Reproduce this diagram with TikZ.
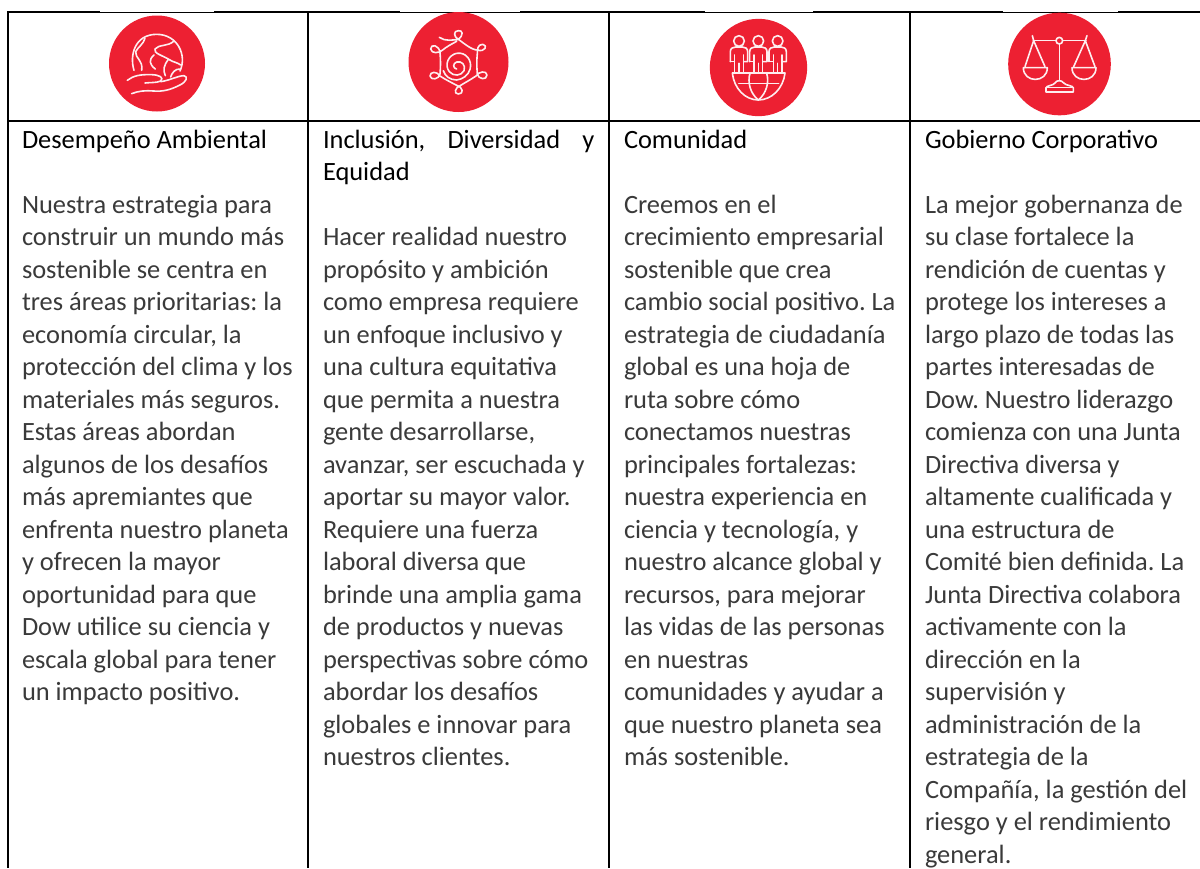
\documentclass[tikz,border=0pt]{standalone}
\usepackage{fontspec}
\setmainfont{Carlito}
\definecolor{iconred}{HTML}{ED2032}
\definecolor{bodytext}{HTML}{3A3A3A}
\tikzset{
  x=0.75pt,y=-0.75pt,
  rule/.style={draw=black,line width=1.6pt},
  badge/.style={circle,fill=iconred,draw=none,inner sep=0pt},
  glyph/.style={draw=white!92!iconred,line width=1.2pt,line cap=round,line join=round},
  heading/.style={anchor=base west,inner sep=0pt,outer sep=0pt,font=\fontsize{19.8pt}{24.375pt}\selectfont\frenchspacing,text=black},
  para/.style={anchor=base west,inner sep=0pt,outer sep=0pt,align=left,font=\fontsize{19.8pt}{24.375pt}\selectfont\frenchspacing,text=bodytext},
}
\begin{document}
\begin{tikzpicture}
\useasboundingbox (0,0) rectangle (1200,868);
\fill[white] (0,0) rectangle (1200,868);
% grid
\coordinate (tl) at (8,12.2); \coordinate (tr) at (1200,12.2);
\coordinate (ml) at (8,121); \coordinate (mr) at (1200,121);
\draw[rule] (tl) -- (tr);
\draw[rule] (ml) -- (mr);
\foreach \x/\n in {8/a,308/b,609/c,910/d}{
  \coordinate (top\n) at (\x,11); \coordinate (bot\n) at (\x,868);
  \draw[rule] (top\n) -- (bot\n);
}
% image patches that thin the top rule
\fill[white] (100,9) rectangle (214,12);
\fill[white] (400,9) rectangle (520,12);
\fill[white] (705,9) rectangle (813,12);
\fill[white] (1003,9) rectangle (1118,12);
% badges
\node[badge,minimum size=72pt] (icon1) at (157,63.5) {};
\node[badge,minimum size=75pt] (icon2) at (458.5,62) {};
\node[badge,minimum size=73pt] (icon3) at (758.5,67.5) {};
\node[badge,minimum size=77pt] (icon4) at (1059.5,64) {};
% icon 1: globe in a hand
\begin{scope}[shift={(90,5)},scale=1/3,glyph]
\draw (132,196) .. controls (118,150) and (135,88) .. (200,88) .. controls (262,88) and (292,150) .. (270,198);
\draw (165,100) .. controls (160,118) and (145,125) .. (137,140) .. controls (135,160) and (160,165) .. (155,196);
\draw (252,108) .. controls (235,125) and (205,118) .. (195,132) .. controls (190,145) and (215,150) .. (240,165) .. controls (250,172) and (262,172) .. (272,180);
\draw (192,150) .. controls (175,165) and (178,178) .. (196,192);
\draw (235,163) .. controls (222,180) and (218,195) .. (226,212);
\draw (272,192) .. controls (255,190) and (245,205) .. (242,216);
\draw (112,226) .. controls (130,212) and (150,208) .. (185,209) .. controls (210,210) and (222,218) .. (212,228) .. controls (200,234) and (180,232) .. (165,234);
\draw (212,230) .. controls (240,226) and (265,212) .. (282,212) .. controls (295,215) and (290,230) .. (270,240) .. controls (240,255) and (220,260) .. (190,258) .. controls (165,256) and (145,258) .. (125,266);
\end{scope}
% icon 2: spiral in a knotted hexagon
\begin{scope}[shift={(390,0)},scale=1/3,glyph]
\draw (148,112) .. controls (165,125) and (190,120) .. (205,118) .. controls (222,105) and (218,90) .. (205,92) .. controls (190,92) and (190,110) .. (205,118) .. controls (222,130) and (245,150) .. (262,150) .. controls (285,158) and (295,135) .. (278,133) .. controls (262,133) and (262,150) .. (262,160) .. controls (260,180) and (260,200) .. (262,222) .. controls (265,238) and (290,242) .. (291,225) .. controls (290,210) and (265,215) .. (258,228) .. controls (240,240) and (225,248) .. (212,256) .. controls (195,262) and (190,282) .. (205,282) .. controls (222,282) and (220,262) .. (200,256) .. controls (185,248) and (165,238) .. (150,228) .. controls (140,212) and (120,215) .. (120,228) .. controls (122,242) and (148,238) .. (150,222) .. controls (152,200) and (152,180) .. (150,158) .. controls (148,135) and (122,130) .. (122,147) .. controls (124,162) and (148,160) .. (158,150) .. controls (170,140) and (185,132) .. (200,124);
\draw (200,207) .. controls (188,205) and (188,190) .. (200,186) .. controls (215,182) and (228,195) .. (222,212) .. controls (214,228) and (190,230) .. (178,215) .. controls (162,195) and (175,165) .. (200,160) .. controls (228,155) and (248,182) .. (240,208) .. controls (235,226) and (218,238) .. (200,240) .. controls (180,240) and (165,228) .. (160,212);
\end{scope}
% icon 3: three people on a globe
\begin{scope}[shift={(700,0)},scale=1/3,glyph]
\foreach \c in {117,175,233}{
  \draw (\c,123) circle (16);
  \draw (\c-13,189) -- (\c-13,218) (\c+13,189) -- (\c+13,218) (\c,190) -- (\c,218);
  \draw (\c-13,189) -- (\c-13,165) (\c+13,189) -- (\c+13,165);
  \draw (\c-26,185) -- (\c-26,155) .. controls (\c-26,145) and (\c-18,141) .. (\c-10,141) -- (\c+10,141) .. controls (\c+18,141) and (\c+26,145) .. (\c+26,155) -- (\c+26,185) -- (\c+14,185);
  \draw (\c-26,185) -- (\c-14,185);
}
\draw (97,219) -- (255,219) .. controls (250,265) and (215,300) .. (175,300) .. controls (135,300) and (102,265) .. (97,219);
\draw (175,300) .. controls (150,280) and (142,245) .. (150,220);
\draw (175,300) .. controls (200,280) and (208,245) .. (200,220);
\draw (116,250) -- (236,250);
\end{scope}
% icon 4: scales
\begin{scope}[shift={(990,0)},scale=1/3,glyph]
\draw (218,122) -- (288,122) (198,122) -- (130,122);
\draw (208,122) circle (10);
\draw (208,132) -- (208,240);
\draw (127,107) -- (131,122) (291,107) -- (286,122);
\draw (131,122) -- (105,200) (131,122) -- (165,200);
\draw (286,122) -- (251,200) (286,122) -- (315,200);
\draw (100,203) -- (172,203) .. controls (172,250) and (100,250) .. (100,203);
\draw (246,203) -- (318,203) .. controls (318,250) and (246,250) .. (246,203);
\draw (168,276) -- (250,276) -- (250,264) .. controls (250,256) and (228,258) .. (220,248) .. controls (215,240) and (200,240) .. (196,248) .. controls (190,258) and (168,256) .. (168,264) -- cycle;
\draw (168,263) -- (250,263);
\end{scope}
% column 1
\node[heading] (h1) at (22,148) {Desempeño Ambiental};
\node[para] (p1) at (22,700.5) {Nuestra estrategia para\\construir un mundo más\\sostenible se centra en\\tres áreas prioritarias: la\\economía circular, la\\protección del clima y los\\materiales más seguros.\\Estas áreas abordan\\algunos de los desafíos\\más apremiantes que\\enfrenta nuestro planeta\\y ofrecen la mayor\\oportunidad para que\\Dow utilice su ciencia y\\escala global para tener\\un impacto positivo.};
% column 2
\node[heading] (h2a) at (323,148) {\hbox to 203.5pt{Inclusión,\hfil Diversidad\hfil y}};
\node[heading] (h2b) at (323,180.5) {Equidad};
\node[para] (p2) at (323,765.5) {Hacer realidad nuestro\\propósito y ambición\\como empresa requiere\\un enfoque inclusivo y\\una cultura equitativa\\que permita a nuestra\\gente desarrollarse,\\avanzar, ser escuchada y\\aportar su mayor valor.\\Requiere una fuerza\\laboral diversa que\\brinde una amplia gama\\de productos y nuevas\\perspectivas sobre cómo\\abordar los desafíos\\globales e innovar para\\nuestros clientes.};
% column 3
\node[heading] (h3) at (624,148) {Comunidad};
\node[para] (p3) at (624,765.5) {Creemos en el\\crecimiento empresarial\\sostenible que crea\\cambio social positivo. La\\estrategia de ciudadanía\\global es una hoja de\\ruta sobre cómo\\conectamos nuestras\\principales fortalezas:\\nuestra experiencia en\\ciencia y tecnología, y\\nuestro alcance global y\\recursos, para mejorar\\las vidas de las personas\\en nuestras\\comunidades y ayudar a\\que nuestro planeta sea\\más sostenible.};
% column 4
\node[heading] (h4) at (925,148) {Gobierno Corporativo};
\node[para] (p4) at (925,863) {La mejor gobernanza de\\su clase fortalece la\\rendición de cuentas y\\protege los intereses a\\largo plazo de todas las\\partes interesadas de\\Dow. Nuestro liderazgo\\comienza con una Junta\\Directiva diversa y\\altamente cualificada y\\una estructura de\\Comité bien definida. La\\Junta Directiva colabora\\activamente con la\\dirección en la\\supervisión y\\administración de la\\estrategia de la\\Compañía, la gestión del\\riesgo y el rendimiento\\general.};
\end{tikzpicture}
\end{document}
